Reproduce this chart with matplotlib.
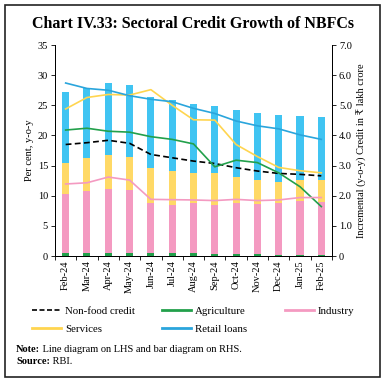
import matplotlib
matplotlib.use("Agg")
import matplotlib.pyplot as plt
import numpy as np
from matplotlib.patches import Rectangle
from matplotlib.lines import Line2D

plt.rcParams['font.family'] = ['Liberation Serif', 'DejaVu Serif', 'DejaVu Sans']

months = ["Feb-24", "Mar-24", "Apr-24", "May-24", "Jun-24", "Jul-24", "Aug-24",
          "Sep-24", "Oct-24", "Nov-24", "Dec-24", "Jan-25", "Feb-25"]

# Line series (LHS, per cent y-o-y)
nonfood_line = [18.5, 18.8, 19.2, 18.7, 16.85, 16.3, 15.75, 15.35, 14.65, 14.1, 13.7, 13.55, 13.3]
agri_line = [20.9, 21.2, 20.7, 20.55, 19.8, 19.35, 18.6, 14.8, 15.9, 15.5, 13.8, 11.5, 8.2]
industry_line = [11.95, 12.15, 13.1, 12.6, 9.4, 9.35, 9.3, 9.2, 9.4, 9.2, 9.3, 9.7, 9.7]
services_line = [24.4, 26.3, 26.8, 26.7, 27.6, 25.0, 22.6, 22.55, 18.5, 16.5, 14.7, 14.15, 13.8]
retail_line = [28.7, 27.8, 27.5, 26.6, 26.0, 25.6, 24.5, 23.65, 22.4, 21.6, 21.1, 20.1, 19.35]

# Bar series (RHS, incremental credit in lakh crore)
agri_bar = [0.11, 0.11, 0.11, 0.11, 0.11, 0.11, 0.11, 0.08, 0.08, 0.08, 0.05, 0.05, 0.05]
industry_bar = [1.95, 2.05, 2.13, 2.08, 1.64, 1.59, 1.64, 1.61, 1.67, 1.64, 1.70, 1.78, 1.75]
services_bar = [1.02, 1.08, 1.11, 1.10, 1.18, 1.12, 1.01, 1.05, 0.88, 0.80, 0.71, 0.69, 0.72]
retail_bar = [2.37, 2.34, 2.40, 2.40, 2.35, 2.35, 2.30, 2.23, 2.23, 2.21, 2.21, 2.12, 2.08]

c_pink = "#F49AC1"
c_yellow_bar = "#FFD966"
c_blue_bar = "#40C4F2"
c_green = "#22A04B"
c_yellow_line = "#FFD54F"
c_blue_line = "#2AA5DC"

fig = plt.figure(figsize=(3.86, 3.85), dpi=100)
ax = fig.add_axes([0.1425, 0.335, 0.7175, 0.548])
ax2 = ax.twinx()

x = np.arange(len(months))
w = 0.33
b1 = np.array(agri_bar)
b2 = b1 + np.array(industry_bar)
b3 = b2 + np.array(services_bar)
ax2.bar(x, agri_bar, w, color=c_green, linewidth=0)
ax2.bar(x, industry_bar, w, bottom=b1, color=c_pink, linewidth=0)
ax2.bar(x, services_bar, w, bottom=b2, color=c_yellow_bar, linewidth=0)
ax2.bar(x, retail_bar, w, bottom=b3, color=c_blue_bar, linewidth=0)

ax.set_zorder(ax2.get_zorder() + 1)
ax.patch.set_visible(False)

lw = 1.2
ax.plot(x, nonfood_line, color="black", ls=(0, (3.5, 2)), lw=lw)
ax.plot(x, agri_line, color=c_green, lw=lw)
ax.plot(x, industry_line, color=c_pink, lw=lw)
ax.plot(x, services_line, color=c_yellow_line, lw=lw)
ax.plot(x, retail_line, color=c_blue_line, lw=lw)

ax.set_xlim(-0.5, len(months) - 0.5)
ax.set_ylim(0, 35)
ax2.set_ylim(0, 7)
ax.set_yticks(np.arange(0, 36, 5))
ax2.set_yticks(np.arange(0, 7.1, 1))
ax2.set_yticklabels(["0"] + [f"{v:.1f}" for v in np.arange(1, 7.1, 1)])

ax.set_xticks(x)
ax.set_xticklabels(months, rotation=90, fontsize=7.5)
ax.set_xticks(np.arange(-0.5, len(months), 1), minor=True)
ax.tick_params(axis='x', which='major', length=0, pad=3)
ax.tick_params(axis='x', which='minor', length=3, width=0.6)
ax.tick_params(axis='y', labelsize=7.5, length=3, width=0.6, pad=2)
ax2.tick_params(axis='y', labelsize=7.5, length=3, width=0.6, pad=2)

for a in (ax, ax2):
    a.spines['top'].set_visible(False)
    for s in ('left', 'right', 'bottom'):
        a.spines[s].set_linewidth(0.7)

ax.set_ylabel("Per cent, y-o-y", fontsize=7.5, labelpad=3)
ax2.set_ylabel("Incremental (y-o-y) Credit in ₹ lakh crore", fontsize=7.5, labelpad=4)

h_nonfood = Line2D([], [], color="black", ls=(0, (3, 1.5)), lw=lw)
h_services = Line2D([], [], color=c_yellow_line, lw=2)
h_agri = Line2D([], [], color=c_green, lw=2)
h_retail = Line2D([], [], color=c_blue_line, lw=2)
h_ind = Line2D([], [], color=c_pink, lw=2)

leg_kw = dict(loc="upper left", frameon=False, fontsize=7.8, handlelength=2.7,
              handletextpad=0.35, labelspacing=0.8, borderpad=0, borderaxespad=0)
cols = [([h_nonfood, h_services], ["Non-food credit", "Services"], 32),
        ([h_agri, h_retail], ["Agriculture", "Retail loans"], 162),
        ([h_ind], ["Industry"], 285)]
for hs, ls_, px in cols:
    fig.legend(hs, ls_, bbox_to_anchor=(px / 386, 1 - 306 / 385), **leg_kw)

fig.text(0.5, 0.937, "Chart IV.33: Sectoral Credit Growth of NBFCs", ha="center", va="center",
         fontsize=11.5, fontweight="bold")
t1 = fig.text(0.042, 0.093, "Note:", fontsize=7.5, va="center", fontweight="bold")
fig.add_artist(matplotlib.text.Annotation(
    " Line diagram on LHS and bar diagram on RHS.", xy=(1, 0.5), xycoords=t1,
    fontsize=7.5, va="center", ha="left", annotation_clip=False))
t2 = fig.text(0.042, 0.062, "Source:", fontsize=7.5, va="center", fontweight="bold")
fig.add_artist(matplotlib.text.Annotation(
    " RBI.", xy=(1, 0.5), xycoords=t2, fontsize=7.5, va="center", ha="left",
    annotation_clip=False))

fig.patches.append(Rectangle((0.014, 0.021), 0.971, 0.966, transform=fig.transFigure,
                             fill=False, edgecolor="#222222", lw=1.2))

fig.savefig("out.png", dpi=100)
